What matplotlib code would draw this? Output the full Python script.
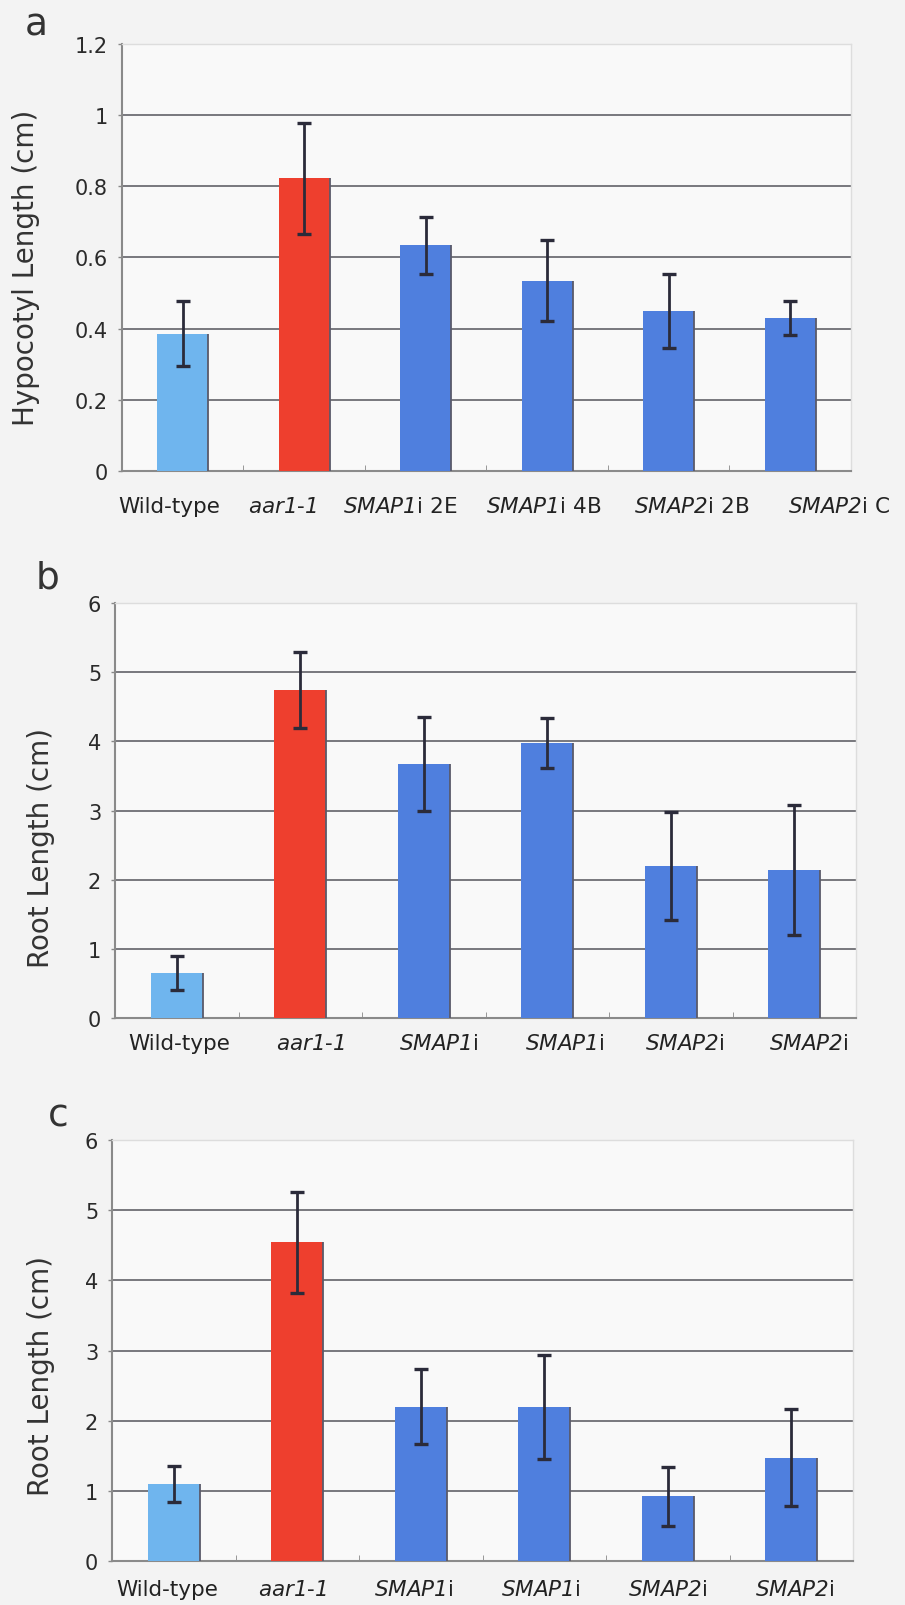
import matplotlib
matplotlib.use('Agg')
import matplotlib.pyplot as plt
import numpy as np

# math segments are used only for the italic gene names, digits included
plt.rcParams['mathtext.fontset'] = 'custom'
plt.rcParams['mathtext.rm'] = 'DejaVu Sans:italic'
plt.rcParams['mathtext.it'] = 'DejaVu Sans:italic'
plt.rcParams['mathtext.default'] = 'rm'

# Hypocotyl length (a)
labels_a = ['Wild-type', r'$aar1$-$1$', r'$SMAP1$i 2E', r'$SMAP1$i 4B',
            r'$SMAP2$i 2B', r'$SMAP2$i C']
hypo_mean = [0.386, 0.822, 0.634, 0.535, 0.450, 0.430]
hypo_err = [0.091, 0.155, 0.081, 0.114, 0.104, 0.047]

# Root length (b)
labels_bc = ['Wild-type', r'$aar1$-$1$', r'$SMAP1$i', r'$SMAP1$i',
             r'$SMAP2$i', r'$SMAP2$i']
root_b_mean = [0.65, 4.74, 3.67, 3.98, 2.20, 2.14]
root_b_err = [0.25, 0.55, 0.68, 0.36, 0.78, 0.94]

# Root length (c)
root_c_mean = [1.10, 4.54, 2.20, 2.20, 0.92, 1.47]
root_c_err = [0.26, 0.72, 0.53, 0.74, 0.42, 0.69]

bar_colors = ['#6fb5ee', '#ee3f2e', '#4f7fde', '#4f7fde', '#4f7fde', '#4f7fde']

fig = plt.figure(figsize=(9.05, 16.06), dpi=100, facecolor='#f3f3f3')


def panel(rect, means, errs, labels, label_pos, xpad, ymax, step, ylabel,
          ylabel_xy, letter, letter_xy, yfmt):
    ax = fig.add_axes(rect)
    ax.set_facecolor('#f9f9f9')
    x = np.arange(len(means))
    w = 0.42
    ax.bar(x, means, width=w, color=bar_colors, zorder=3)
    # thin shaded right edge on every bar
    ax.vlines(x + w / 2, 0, means, color='#5a5a6a', linewidth=1.3, zorder=3)
    ax.errorbar(x, means, yerr=errs, fmt='none', ecolor='#2b2b3a',
                elinewidth=2.0, capsize=5, capthick=2.4, zorder=4)
    ax.set_xlim(-0.5, len(means) - 0.5)
    ax.set_ylim(0, ymax)
    ticks = np.arange(0, ymax + step / 2, step)
    ax.set_yticks(ticks)
    ax.set_yticklabels([yfmt(t) for t in ticks], fontsize=15, color='#2a2a2a')
    ax.yaxis.grid(True, color='#6e6e74', linewidth=1.3, zorder=1)
    ax.set_xticks(label_pos)
    ax.set_xticklabels(labels, fontsize=15.5, color='#222222')
    ax.tick_params(axis='x', length=0, pad=xpad)
    ax.tick_params(axis='y', length=3, width=1, color='#888888', pad=7)
    ax.set_xticks(np.arange(0.5, len(means) - 1, 1), minor=True)
    ax.tick_params(axis='x', which='minor', direction='in', length=4, color='#888888')
    for s in ['left', 'bottom']:
        ax.spines[s].set_color('#8a8a8a')
        ax.spines[s].set_linewidth(1.5)
    for s in ['top', 'right']:
        ax.spines[s].set_color('#dddddd')
        ax.spines[s].set_linewidth(1.0)
    ax.set_ylabel(ylabel, fontsize=20, color='#333333')
    ax.yaxis.set_label_coords(*ylabel_xy)
    fig.text(letter_xy[0], letter_xy[1], letter, fontsize=27, color='#333333',
             ha='center', va='center')
    return ax


panel([0.1348, 0.7061, 0.8055, 0.2659], hypo_mean, hypo_err, labels_a,
      [-0.11, 0.82, 1.79, 2.97, 4.19, 5.40], 18, 1.2, 0.2,
      'Hypocotyl Length (cm)', (-0.112, 0.478), 'a', (0.040, 0.984),
      lambda t: '0' if t == 0 else ('1' if abs(t - 1) < 1e-9 else f'{t:.1f}'))
panel([0.1271, 0.3655, 0.8188, 0.2584], root_b_mean, root_b_err, labels_bc,
      [0.02, 1.08, 2.12, 3.14, 4.11, 5.12], 11, 6, 1,
      'Root Length (cm)', (-0.081, 0.412), 'b', (0.052, 0.640),
      lambda t: f'{int(round(t))}')
panel([0.1238, 0.0274, 0.8188, 0.2621], root_c_mean, root_c_err, labels_bc,
      [-0.05, 0.96, 1.94, 2.97, 4.0, 5.03], 13, 6, 1,
      'Root Length (cm)', (-0.077, 0.442), 'c', (0.064, 0.305),
      lambda t: f'{int(round(t))}')

fig.savefig('out.png', dpi=100, facecolor=fig.get_facecolor())
